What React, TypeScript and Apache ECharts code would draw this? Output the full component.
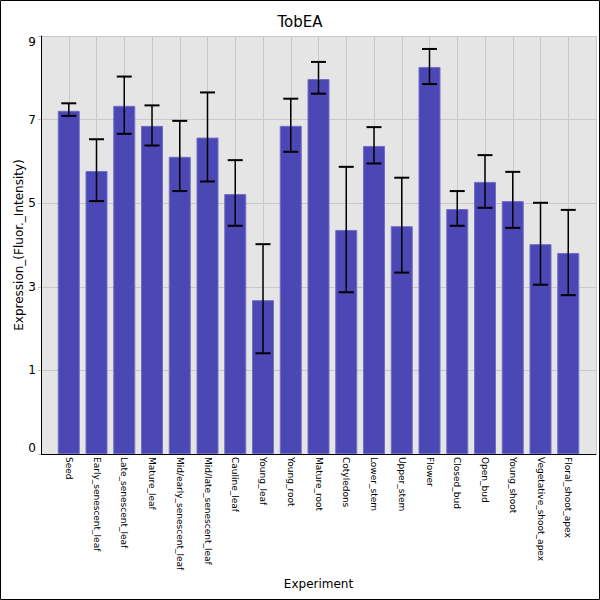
import React, { useEffect, useRef } from "react";
import * as echarts from "echarts";

const categories = [
  "Seed",
  "Early_senescent_leaf",
  "Late_senescent_leaf",
  "Mature_leaf",
  "Mid/early_senescent_leaf",
  "Mid/late_senescent_leaf",
  "Cauline_leaf",
  "Young_leaf",
  "Young_root",
  "Mature_root",
  "Cotyledons",
  "Lower_stem",
  "Upper_stem",
  "Flower",
  "Closed_bud",
  "Open_bud",
  "Young_shoot",
  "Vegetative_shoot_apex",
  "Floral_shoot_apex",
];

// values as read against the printed tick labels
const values = [7.21, 5.77, 7.33, 6.85, 6.11, 6.57, 5.22, 2.68, 6.85, 7.97, 4.36, 6.37, 4.45, 8.26, 4.86, 5.51, 5.05, 4.02, 3.81];
const errLow = [7.09, 5.05, 6.66, 6.38, 5.29, 5.52, 4.46, 1.41, 6.23, 7.62, 2.87, 5.95, 3.34, 7.85, 4.46, 4.89, 4.41, 3.05, 2.8];
const errHigh = [7.39, 6.53, 8.03, 7.34, 6.97, 7.65, 6.03, 4.02, 7.5, 8.38, 5.87, 6.82, 5.61, 8.69, 5.29, 6.15, 5.75, 5.01, 4.84];

// printed labels sit on the axis ticks 0,2,4,...,10 of the plotting scale
const yTickValues = [0, 2, 4, 6, 8, 10];
const yTickLabels = ["0", "1", "3", "5", "7", "9"];
// the plotting scale is the printed scale shifted by one (bars grow from the axis bottom)
const AXIS_OFFSET = 1;

const FONT = "DejaVu Sans";

export default function App() {
  const ref = useRef<HTMLDivElement>(null);

  useEffect(() => {
    if (!ref.current) return;
    const chart = echarts.init(ref.current, null, { renderer: "svg" });

    const axisCats = ["", ...categories, ""];
    const barData = ["-", ...values.map((v) => v + AXIS_OFFSET), "-"];
    const errData = categories.map((_, i) => [i + 1, errLow[i] + AXIS_OFFSET, errHigh[i] + AXIS_OFFSET]);

    chart.setOption({
      animation: false,
      backgroundColor: "#ffffff",
      title: {
        text: "TobEA",
        left: "center",
        top: 9,
        textStyle: { fontFamily: FONT, fontSize: 15, fontWeight: "normal", color: "#000" },
      },
      graphic: [
        {
          type: "rect",
          shape: { x: 0.5, y: 0.5, width: 599, height: 599 },
          style: { fill: "none", stroke: "#000", lineWidth: 1 },
          silent: true,
          z: 100,
        },
      ],
      grid: {
        left: 41,
        right: 4,
        top: 36,
        bottom: 146,
        show: true,
        backgroundColor: "#e5e5e5",
        borderWidth: 0,
      },
      xAxis: {
        type: "category",
        data: axisCats,
        boundaryGap: false,
        name: "Experiment",
        nameLocation: "middle",
        nameGap: 124,
        nameMoveOverlap: false,
        nameTextStyle: { fontFamily: FONT, fontSize: 12, color: "#000" },
        axisLine: { show: true, onZero: false, lineStyle: { color: "#000", width: 1 } },
        axisTick: { show: false },
        axisLabel: {
          interval: 0,
          rotate: -90,
          margin: 3,
          fontFamily: FONT,
          fontSize: 9,
          color: "#000",
        },
        splitLine: { show: true, lineStyle: { color: "#c8c8c8", width: 1 } },
      },
      yAxis: {
        type: "value",
        min: 0,
        max: 10,
        interval: 2,
        name: "Expression_(Fluor._Intensity)",
        nameLocation: "middle",
        nameGap: 16,
        nameMoveOverlap: false,
        nameTextStyle: { fontFamily: FONT, fontSize: 12, color: "#000" },
        axisLine: { show: true, lineStyle: { color: "#000", width: 1 } },
        axisTick: { show: true, length: 3, lineStyle: { color: "#c0c0c0" } },
        axisLabel: {
          margin: 5,
          fontFamily: FONT,
          fontSize: 12,
          color: "#000",
          verticalAlignMinLabel: "bottom",
          verticalAlignMaxLabel: "top",
          formatter: (v: number) => {
            const idx = yTickValues.indexOf(v);
            return idx >= 0 ? yTickLabels[idx] : "";
          },
        },
        splitLine: { show: true, lineStyle: { color: "#c8c8c8", width: 1 } },
      },
      series: [
        {
          type: "bar",
          data: barData,
          barWidth: 22,
          itemStyle: { color: "#4b47b4", borderColor: "#716ec6", borderWidth: 1 },
          z: 2,
        },
        {
          type: "custom",
          data: errData,
          z: 3,
          renderItem: (params: any, api: any) => {
            const x = api.value(0);
            const lo = api.coord([x, api.value(1)]);
            const hi = api.coord([x, api.value(2)]);
            const hw = 7.5;
            return {
              type: "group",
              children: [
                {
                  type: "line",
                  shape: { x1: hi[0], y1: hi[1], x2: lo[0], y2: lo[1] },
                  style: { stroke: "#000", lineWidth: 1.5 },
                },
                {
                  type: "line",
                  shape: { x1: hi[0] - hw, y1: hi[1], x2: hi[0] + hw, y2: hi[1] },
                  style: { stroke: "#000", lineWidth: 2 },
                },
                {
                  type: "line",
                  shape: { x1: lo[0] - hw, y1: lo[1], x2: lo[0] + hw, y2: lo[1] },
                  style: { stroke: "#000", lineWidth: 2 },
                },
              ],
            };
          },
        },
      ],
    });

    return () => chart.dispose();
  }, []);

  return (
    <div
      ref={ref}
      style={{ position: "fixed", left: 0, top: 0, width: 600, height: 600 }}
    />
  );
}
